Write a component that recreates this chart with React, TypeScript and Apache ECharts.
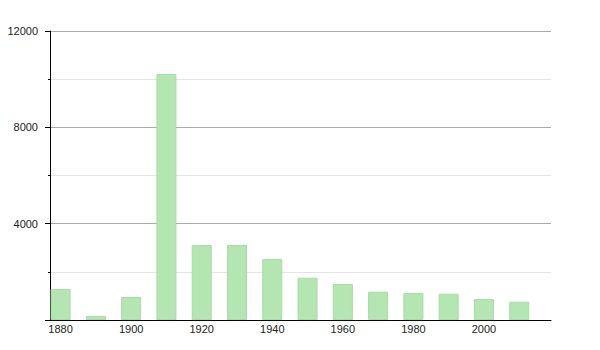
import React, { useEffect, useRef } from "react";
import * as echarts from "echarts";

const years = [1880, 1890, 1900, 1910, 1920, 1930, 1940, 1950, 1960, 1970, 1980, 1990, 2000, 2010];
const population = [1290, 170, 955, 10210, 3115, 3115, 2530, 1755, 1495, 1175, 1120, 1090, 870, 760];
const xTickLabels = [1880, 1900, 1920, 1940, 1960, 1980, 2000];
const yTicks = [0, 4000, 8000, 12000];

export default function App() {
  const ref = useRef<HTMLDivElement>(null);
  useEffect(() => {
    if (!ref.current) return;
    const chart = echarts.init(ref.current, null, { renderer: "svg" });
    const font = "'Liberation Sans', Arial, Helvetica, sans-serif";
    chart.setOption({
      animation: false,
      backgroundColor: "#ffffff",
      grid: { left: 50, right: 49, top: 31, bottom: 30, containLabel: false },
      xAxis: {
        type: "value",
        min: 1877,
        max: 2019,
        splitLine: { show: false },
        axisTick: { show: false },
        axisLine: { show: true, lineStyle: { color: "#000", width: 1 } },
        axisLabel: {
          customValues: xTickLabels,
          formatter: (v: number) => String(v),
          color: "#222",
          fontSize: 11,
          fontFamily: font,
          margin: 3,
        },
      },
      yAxis: {
        type: "value",
        min: yTicks[0],
        max: yTicks[yTicks.length - 1],
        interval: 4000,
        axisLine: { show: true, lineStyle: { color: "#000", width: 1 } },
        axisTick: { show: true, length: 5, lineStyle: { color: "#000" } },
        minorTick: { show: true, splitNumber: 2, length: 2, lineStyle: { color: "#000" } },
        splitLine: { show: true, lineStyle: { color: "#aaaaaa", width: 1 } },
        minorSplitLine: { show: true, lineStyle: { color: "#e4e4e4", width: 1 } },
        axisLabel: {
          formatter: (v: number) => (v === 0 ? "" : String(v)),
          color: "#222",
          fontSize: 11,
          fontFamily: font,
          margin: 12,
        },
      },
      series: [
        {
          type: "bar",
          data: years.map((y, i) => [y, population[i]]),
          barWidth: 20,
          itemStyle: { color: "#b4e6b1", borderColor: "#a9d9a6", borderWidth: 1 },
        },
      ],
    });
    return () => chart.dispose();
  }, []);
  return (
    <div
      ref={ref}
      style={{ position: "fixed", left: 0, top: 0, width: 600, height: 350 }}
    />
  );
}
